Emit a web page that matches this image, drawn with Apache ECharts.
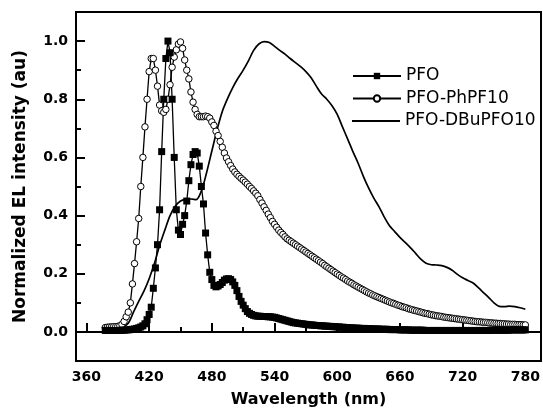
<!DOCTYPE html>
<html>
<head>
<meta charset="utf-8">
<script src="https://cdn.jsdelivr.net/npm/echarts@6/dist/echarts.min.js"></script>
<style>
html,body{margin:0;padding:0;background:#fff;}
#chart{width:543px;height:414px;}
</style>
</head>
<body>
<div id="chart"></div>
<script>
// ---- data ----
const seriesNames = ['PFO', 'PFO-PhPF10', 'PFO-DBuPFO10'];
const xTickLabels = [360, 420, 480, 540, 600, 660, 720, 780];
const xMinorTicks = [390, 450, 510, 570, 630, 690, 750];
const yTickLabels = [0.0, 0.2, 0.4, 0.6, 0.8, 1.0];
const yMinorTicks = [0.1, 0.3, 0.5, 0.7, 0.9];

// PFO and PFO-PhPF10 sampled every 2 nm from 378 nm
const sampledStart = 378, sampledStep = 2;
const pfo = [
  0.005,0.005,0.005,0.005,0.005,0.005,0.005,0.005,0.006,0.006,
  0.007,0.007,0.008,0.009,0.010,0.012,0.014,0.017,0.021,0.028,
  0.042,0.060,0.085,0.150,0.220,0.300,0.420,0.620,0.800,0.940,
  1.000,0.960,0.800,0.600,0.420,0.350,0.335,0.370,0.400,0.450,
  0.520,0.575,0.610,0.620,0.615,0.570,0.500,0.440,0.340,0.265,
  0.205,0.180,0.160,0.155,0.158,0.163,0.170,0.178,0.182,0.183,
  0.180,0.172,0.160,0.142,0.122,0.105,0.092,0.080,0.070,0.064,
  0.060,0.057,0.055,0.054,0.054,0.053,0.053,0.053,0.052,0.052,
  0.051,0.050,0.048,0.046,0.044,0.042,0.040,0.038,0.036,0.034,
  0.032,0.031,0.030,0.029,0.028,0.027,0.026,0.025,0.024,0.024,
  0.023,0.022,0.022,0.021,0.021,0.020,0.020,0.019,0.019,0.018,
  0.018,0.017,0.017,0.016,0.016,0.015,0.015,0.014,0.014,0.013,
  0.013,0.013,0.012,0.012,0.012,0.011,0.011,0.011,0.010,0.010,
  0.010,0.010,0.009,0.009,0.009,0.009,0.008,0.008,0.008,0.008,
  0.008,0.007,0.007,0.007,0.007,0.007,0.006,0.006,0.006,0.006,
  0.006,0.006,0.006,0.005,0.005,0.005,0.005,0.005,0.005,0.005,
  0.005,0.005,0.005,0.005,0.005,0.005,0.005,0.005,0.005,0.005,
  0.005,0.005,0.005,0.005,0.005,0.005,0.005,0.005,0.005,0.005,
  0.005,0.005,0.005,0.005,0.005,0.006,0.006,0.006,0.006,0.006,
  0.006,0.006,0.006,0.006,0.007,0.007,0.007,0.007,0.007,0.007,
  0.007,0.007
];
const phpf = [
  0.015,0.016,0.017,0.017,0.018,0.018,0.019,0.021,0.026,0.036,
  0.052,0.068,0.100,0.165,0.235,0.310,0.390,0.500,0.600,0.705,
  0.800,0.895,0.940,0.940,0.900,0.845,0.780,0.760,0.755,0.765,
  0.800,0.850,0.910,0.945,0.970,0.990,0.997,0.975,0.935,0.900,
  0.870,0.825,0.790,0.765,0.748,0.740,0.740,0.740,0.742,0.740,
  0.735,0.722,0.710,0.690,0.675,0.655,0.635,0.615,0.598,0.585,
  0.572,0.560,0.550,0.542,0.535,0.528,0.522,0.515,0.508,0.500,
  0.493,0.485,0.477,0.468,0.455,0.443,0.430,0.418,0.405,0.393,
  0.380,0.370,0.360,0.350,0.342,0.335,0.327,0.320,0.315,0.310,
  0.305,0.300,0.295,0.290,0.285,0.280,0.275,0.270,0.265,0.260,
  0.255,0.250,0.245,0.240,0.235,0.229,0.224,0.219,0.214,0.209,
  0.204,0.199,0.194,0.189,0.185,0.180,0.175,0.171,0.167,0.162,
  0.158,0.154,0.150,0.146,0.142,0.138,0.134,0.131,0.127,0.124,
  0.121,0.118,0.115,0.112,0.109,0.106,0.103,0.100,0.098,0.095,
  0.092,0.090,0.087,0.085,0.083,0.080,0.078,0.076,0.074,0.072,
  0.070,0.068,0.066,0.064,0.063,0.061,0.059,0.058,0.056,0.055,
  0.054,0.053,0.051,0.050,0.049,0.048,0.047,0.046,0.045,0.044,
  0.043,0.042,0.041,0.040,0.039,0.038,0.037,0.036,0.035,0.035,
  0.034,0.033,0.033,0.032,0.031,0.031,0.030,0.030,0.029,0.029,
  0.028,0.028,0.027,0.027,0.026,0.026,0.026,0.025,0.025,0.025,
  0.024,0.024
];
// PFO-DBuPFO10 sampled every 5 nm from 380 nm
const dbuStart = 380, dbuStep = 5;
const dbu = [
  0.010,0.012,0.014,0.018,0.030,0.068,0.105,0.140,0.183,0.235,
  0.297,0.350,0.400,0.432,0.450,0.456,0.457,0.455,0.485,0.548,
  0.622,0.695,0.758,0.802,0.840,0.872,0.900,0.932,0.968,0.990,
  0.998,0.995,0.982,0.968,0.955,0.940,0.926,0.912,0.895,0.874,
  0.845,0.818,0.800,0.778,0.748,0.705,0.663,0.620,0.580,0.535,
  0.495,0.460,0.430,0.395,0.365,0.345,0.325,0.308,0.290,0.270,
  0.250,0.236,0.231,0.230,0.228,0.222,0.212,0.198,0.186,0.177,
  0.168,0.152,0.135,0.118,0.100,0.088,0.087,0.089,0.087,0.083,
  0.078
];

function pairs(start, step, arr) {
  return arr.map((v, i) => [start + i * step, v]);
}

const chart = echarts.init(document.getElementById('chart'), null, {renderer: 'canvas'});
const boldFont = {fontFamily: 'DejaVu Sans', fontWeight: 'bold', color: '#000'};
const legendText = {fontFamily: 'DejaVu Sans', fontSize: 17, color: '#000', lineHeight: 18};

const option = {
  animation: false,
  backgroundColor: '#fff',
  grid: {left: 76, right: 2, top: 12, bottom: 53, show: true, borderColor: '#000', borderWidth: 2, backgroundColor: 'transparent'},
  legend: [{
    orient: 'vertical',
    left: 347,
    top: 62,
    itemWidth: 48,
    itemHeight: 8,
    itemGap: 4.5,
    data: [seriesNames[0], seriesNames[1]],
    textStyle: legendText
  }, {
    orient: 'vertical',
    left: 347,
    top: 107,
    itemWidth: 48,
    itemHeight: 2,
    data: [{name: seriesNames[2], icon: 'rect'}],
    textStyle: legendText
  }],
  xAxis: [{
    type: 'value', min: 350, max: 795, position: 'bottom',
    name: 'Wavelength (nm)', nameLocation: 'middle', nameGap: 31,
    nameTextStyle: Object.assign({fontSize: 16}, boldFont),
    axisLine: {show: true, lineStyle: {color: '#000', width: 2}},
    axisTick: {show: true, inside: true, length: 9, lineStyle: {color: '#000', width: 2}, customValues: xTickLabels},
    axisLabel: Object.assign({fontSize: 14, margin: 9, customValues: xTickLabels}, boldFont),
    splitLine: {show: false}
  }, {
    type: 'value', min: 350, max: 795, position: 'bottom',
    axisLine: {show: false},
    axisTick: {show: true, inside: true, length: 5, lineStyle: {color: '#000', width: 2}, customValues: xMinorTicks},
    axisLabel: {show: false},
    splitLine: {show: false}
  }],
  yAxis: [{
    type: 'value', min: -0.1, max: 1.1, position: 'left',
    name: 'Normalized EL intensity (au)', nameLocation: 'middle', nameGap: 47,
    nameTextStyle: Object.assign({fontSize: 17}, boldFont),
    axisLine: {show: true, lineStyle: {color: '#000', width: 2}},
    axisTick: {show: true, inside: true, length: 9, lineStyle: {color: '#000', width: 2}, customValues: yTickLabels},
    axisLabel: Object.assign({fontSize: 14, margin: 8, customValues: yTickLabels, formatter: v => Number(v).toFixed(1)}, boldFont),
    splitLine: {show: false}
  }, {
    type: 'value', min: -0.1, max: 1.1, position: 'left',
    axisLine: {show: false},
    axisTick: {show: true, inside: true, length: 5, lineStyle: {color: '#000', width: 2}, customValues: yMinorTicks},
    axisLabel: {show: false},
    splitLine: {show: false}
  }],
  series: [
    {
      name: seriesNames[1], type: 'line', xAxisIndex: 0, yAxisIndex: 0,
      data: pairs(sampledStart, sampledStep, phpf),
      symbol: 'circle', symbolSize: 6.5, showAllSymbol: true,
      itemStyle: {color: '#fff', borderColor: '#000', borderWidth: 1},
      lineStyle: {color: '#000', width: 1.3}
    },
    {
      name: seriesNames[0], type: 'line', xAxisIndex: 0, yAxisIndex: 0,
      data: pairs(sampledStart, sampledStep, pfo),
      symbol: 'rect', symbolSize: 7, showAllSymbol: true,
      itemStyle: {color: '#000'},
      lineStyle: {color: '#000', width: 1.3}
    },
    {
      name: seriesNames[2], type: 'line', xAxisIndex: 0, yAxisIndex: 0,
      data: pairs(dbuStart, dbuStep, dbu),
      symbol: 'none', smooth: 0.3,
      itemStyle: {color: '#000'},
      lineStyle: {color: '#000', width: 1.7}
    }
  ]
};
chart.setOption(option);
</script>
</body>
</html>
